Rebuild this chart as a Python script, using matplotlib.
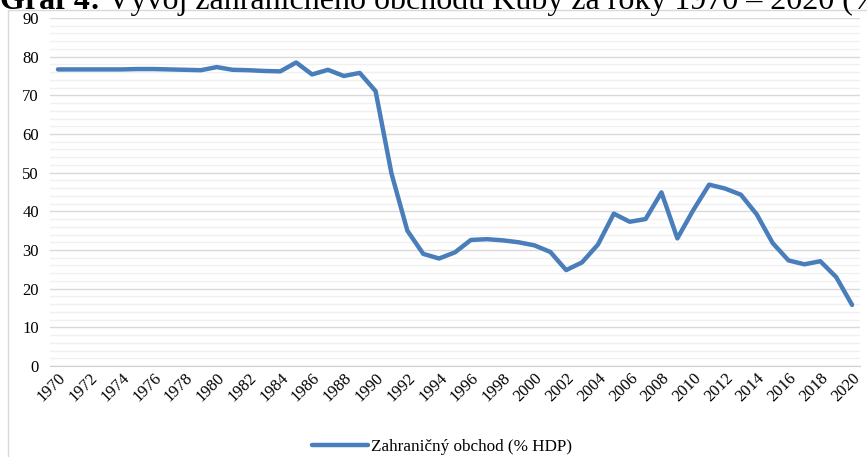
import numpy as np
import matplotlib.pyplot as plt
from matplotlib.ticker import MultipleLocator
from matplotlib.patches import Rectangle

# Kuba - zahranicny obchod (% HDP), 1970-2020
years = list(range(1970, 2021))
trade = [
    76.7, 76.7, 76.7, 76.7, 76.7, 76.8, 76.8, 76.7, 76.6, 76.5,
    77.3, 76.6, 76.5, 76.3, 76.2, 78.5, 75.4, 76.6, 75.0, 75.8,
    71.1, 49.8, 35.0, 29.0, 27.8, 29.4, 32.6, 32.8, 32.5, 32.0,
    31.2, 29.5, 24.8, 26.8, 31.4, 39.4, 37.3, 38.0, 44.9, 33.0,
    40.3, 46.9, 45.9, 44.3, 39.2, 31.8, 27.3, 26.3, 27.1, 23.0,
    15.8,
]
series_label = "Zahraničný obchod (% HDP)"
title_bold = "Graf 4:"
title_rest = " Vývoj zahraničného obchodu Kuby za roky 1970 – 2020 (% HDP)"

plt.rcParams["font.family"] = ["Liberation Serif", "DejaVu Serif"]

W, H = 867, 457
fig = plt.figure(figsize=(W / 100, H / 100), dpi=100)

# chart frame (light border, partly outside the picture)
fig.patches.append(Rectangle((8 / W, -0.1), 2, (H - 10) / H + 0.1,
                             transform=fig.transFigure, fill=False,
                             edgecolor="#D9D9D9", linewidth=1.0))

ax = fig.add_axes([50 / W, 1 - 366 / H, 810 / W, (366 - 18) / H])

ax.plot(years, trade, color="#4A7EBB", linewidth=3.2,
        solid_joinstyle="round", solid_capstyle="round", label=series_label)

ax.set_xlim(years[0] - 0.5, years[-1] + 0.5)
ax.set_ylim(0, 90)
ax.yaxis.set_major_locator(MultipleLocator(10))
ax.yaxis.set_minor_locator(MultipleLocator(2))
ax.set_xticks(years[::2])
ax.set_xticklabels([str(y) for y in years[::2]], rotation=45, ha="right",
                   va="top", rotation_mode="anchor", fontsize=12)
for t in ax.get_yticklabels():
    t.set_fontsize(12)

ax.grid(which="major", axis="y", color="#D9D9D9", linewidth=1.0)
ax.grid(which="minor", axis="y", color="#F0F0F0", linewidth=1.0)
ax.set_axisbelow(True)
ax.tick_params(which="both", length=0)
ax.tick_params(axis="y", pad=8)
ax.tick_params(axis="x", pad=3)
for s in ["top", "right", "left"]:
    ax.spines[s].set_visible(False)
ax.spines["bottom"].set_color("#D0D0D0")

fig.legend(loc="center", bbox_to_anchor=(442 / W, 1 - 447 / H), frameon=False,
           fontsize=12.3, handlelength=3.3, handletextpad=0.15)

# title, cut off at the top edge of the picture
t1 = fig.text(0.0, 1 - 9 / H, title_bold, fontsize=23, fontweight="bold",
              va="baseline", ha="left")
fig.canvas.draw()
bb = t1.get_window_extent()
fig.text(bb.x1 / W, 1 - 9 / H, title_rest, fontsize=23, va="baseline", ha="left")

fig.savefig("out.png", dpi=100)
